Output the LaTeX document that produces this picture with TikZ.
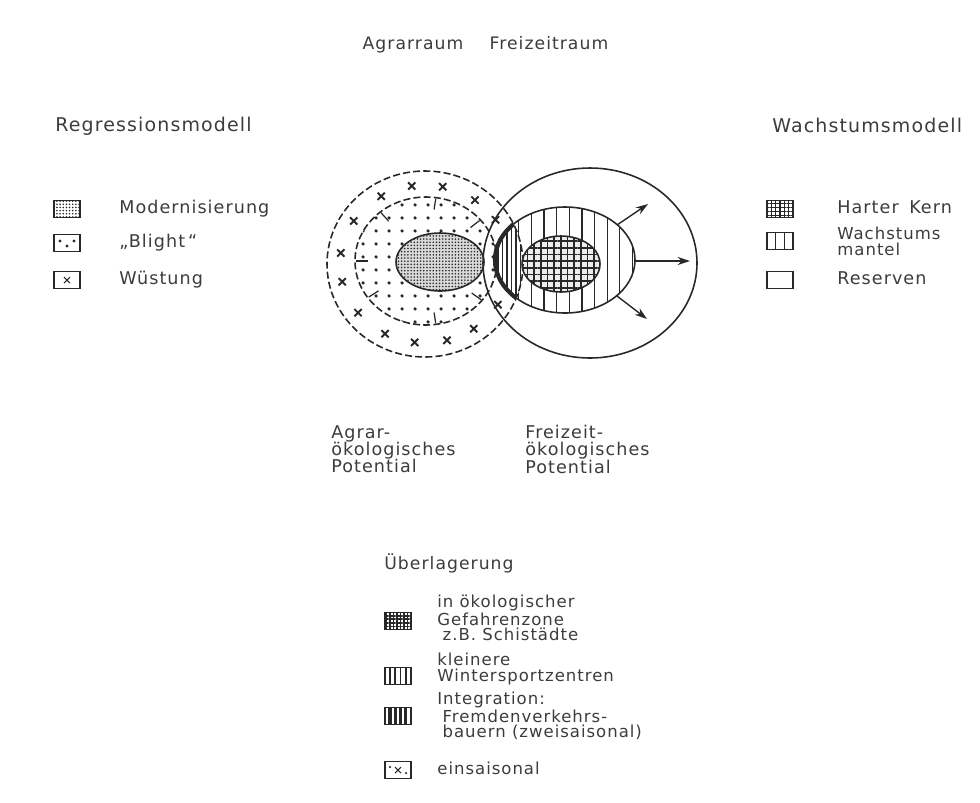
\documentclass[tikz,border=0pt]{standalone}
\usepackage{fontspec}
\setmainfont{DejaVu Sans}[LetterSpace=6]
\usetikzlibrary{arrows.meta,patterns.meta}
\definecolor{ink}{RGB}{40,40,40}
\definecolor{tink}{RGB}{60,60,60}

\begin{document}
\begin{tikzpicture}[x=0.02cm, y=-0.02cm, >={Stealth[length=7pt,width=4.6pt]}]
  \tikzset{
    txt/.style={anchor=west, inner sep=0pt, text=tink, text height=7pt,
                text depth=2pt, font=\fontsize{10}{9.6}\selectfont},
    head/.style={txt, font=\fontsize{10.8}{10}\selectfont},
    mtxt/.style={anchor=north west, align=left, inner sep=0pt, text=tink,
                 font=\fontsize{10}{9.8}\selectfont},
    stxt/.style={mtxt, font=\fontsize{9.4}{8.6}\selectfont},
    zone/.style={draw=ink, line width=0.9pt},
    dzone/.style={zone, dash pattern=on 4pt off 1.8pt},
    leg/.style={draw=ink, line width=0.8pt, minimum width=0.52cm,
                minimum height=0.34cm, inner sep=0pt},
    crs/.style={draw=ink, line width=1.1pt},
    tick/.style={draw=ink, line width=0.7pt},
    arr/.style={->, draw=ink, line width=0.8pt}
  }
  \useasboundingbox (0,0) rectangle (980,802);

  % titles
  \node[txt, anchor=center, font=\fontsize{9.8}{9}\selectfont] (agrar) at (413,45) {Agrarraum};
  \node[txt, anchor=center, font=\fontsize{9.8}{9}\selectfont] (freizeit) at (549,45) {Freizeitraum};
  \node[head] (regr) at (55,127) {Regressionsmodell};
  \node[head] (wachs) at (772,128) {Wachstumsmodell};

  % legend: regression model
  \node[leg, fill=gray!30, pattern={Dots[distance=1.8pt,radius=0.5pt]}, pattern color=ink] (bMod) at (67,209) {};
  \node[leg] (bBli) at (67,243) {};
  \fill[ink] ([shift={(-7,-2)}]bBli.center) circle (0.9pt)
             ([shift={(7,-2)}]bBli.center) circle (0.9pt)
             ([shift={(0,3)}]bBli.center) circle (0.9pt);
  \node[leg] (bWue) at (67,280) {};
  \draw[crs, line width=0.6pt] ([shift={(-3,-3)}]bWue.center) -- ([shift={(3,3)}]bWue.center)
                               ([shift={(-3,3)}]bWue.center) -- ([shift={(3,-3)}]bWue.center);
  \node[txt] (tMod) at (119,209) {Modernisierung};
  \node[txt] (tBli) at (119,243) {„Blight\,“};
  \node[txt] (tWue) at (119,280) {Wüstung};

  % legend: growth model
  \node[leg, pattern={Hatch[angle=0,distance=2.4pt,line width=0.7pt]}, pattern color=ink] (bKern) at (780,209) {};
  \node[leg] (bMant) at (780,241) {};
  \draw[ink, line width=0.7pt] (bMant.north) ++(-4.5,0) -- ++(0,17)
                               (bMant.north) ++(4.5,0) -- ++(0,17);
  \node[leg] (bRes) at (780,280) {};
  \node[txt] (tKern) at (837,209) {Harter\hspace{0.6em}Kern};
  \node[mtxt, font=\fontsize{9.4}{9}\selectfont] (tMant) at (837,227) {Wachstums\\mantel};
  \node[txt] (tRes) at (837,280) {Reserven};

  % Agrarraum: regression model
  \foreach \a in {34,54,78,99,121,147,172,193,218,242,263,285,305,329}
    \draw[crs] (425,264) ++(-\a:85 and 79) +(-3.6,-3.6) -- +(3.6,3.6) +(-3.6,3.6) -- +(3.6,-3.6);
  \path[pattern={Dots[distance=7.4pt,radius=1.1pt]}, pattern color=ink] (426,261) ellipse (71 and 64);
  \draw[dzone] (426,261) ellipse (71 and 64);
  \foreach \a in {40,82,130,180,215,278,322}
    \draw[tick, shift={(426,261)}] (-\a:70 and 63) -- (-\a:58 and 52);
  \fill[gray!30] (440,262) ellipse (44 and 29);
  \path[pattern={Dots[distance=1.8pt,radius=0.5pt]}, pattern color=ink] (440,262) ellipse (44 and 29);
  \draw[zone] (440,262) ellipse (44 and 29);

  % Freizeitraum: growth model
  \draw[zone] (590,263) ellipse (107 and 95);
  \fill[white] (565,260) ellipse (70 and 53);
  \path[pattern={Lines[angle=90,distance=7.2pt,line width=0.7pt]}, pattern color=ink] (565,260) ellipse (70 and 53);
  \begin{scope}
    \clip (425,264) ellipse (98 and 93);
    \fill[white] (565,260) ellipse (70 and 53);
    \path[pattern={Lines[angle=90,distance=2.6pt,line width=0.8pt]}, pattern color=ink] (565,260) ellipse (70 and 53);
    \draw[ink, line width=2.4pt] (565,260) ellipse (70 and 53);
  \end{scope}
  \draw[zone] (565,260) ellipse (70 and 53);
  \fill[gray!15] (561,264) ellipse (39 and 28);
  \path[pattern={Hatch[angle=0,distance=3.8pt,line width=0.9pt]}, pattern color=ink] (561,264) ellipse (39 and 28);
  \draw[zone] (561,264) ellipse (39 and 28);
  \draw[dzone] (425,264) ellipse (98 and 93);

  % growth arrows
  \coordinate (mantE) at (635,261);
  \coordinate (mantN) at (617,225);
  \coordinate (mantS) at (617,296);
  \coordinate (tipE) at (690,261);
  \coordinate (tipN) at (648,204);
  \coordinate (tipS) at (647,319);
  \draw[arr] (mantE) -- (tipE);
  \draw[arr] (mantN) -- (tipN);
  \draw[arr] (mantS) -- (tipS);

  % potentials
  \node[mtxt] (agrpot) at (331,425) {Agrar-\\ökologisches\\Potential};
  \node[mtxt] (frzpot) at (525,425) {Freizeit-\\ökologisches\\Potential};

  % overlay legend
  \node[txt, font=\fontsize{9.8}{9}\selectfont] (ueber) at (384,565) {Überlagerung};
  \node[leg, pattern={Hatch[angle=0,distance=2pt,line width=0.9pt]}, pattern color=ink] (bGef) at (398,621) {};
  \node[leg, pattern={Lines[angle=90,distance=3pt,line width=1pt]}, pattern color=ink] (bKlein) at (398,676) {};
  \node[leg, pattern={Lines[angle=90,distance=3pt,line width=1.8pt]}, pattern color=ink] (bInt) at (398,716) {};
  \node[leg] (bEin) at (398,770) {};
  \draw[crs, line width=0.6pt] ([shift={(-3,-3)}]bEin.center) -- ([shift={(3,3)}]bEin.center)
                               ([shift={(-3,3)}]bEin.center) -- ([shift={(3,-3)}]bEin.center);
  \fill[ink] ([shift={(-8,-3)}]bEin.center) circle (0.7pt)
             ([shift={(8,3)}]bEin.center) circle (0.7pt);
  \node[stxt] (tGef) at (437,595) {in ökologischer\\Gefahrenzone\\\hspace*{3pt}z.B. Schistädte};
  \node[stxt] (tKlein) at (437,653) {kleinere\\Wintersportzentren};
  \node[stxt] (tInt) at (437,692) {Integration:\\\hspace*{3pt}Fremdenverkehrs-\\\hspace*{3pt}bauern (zweisaisonal)};
  \node[txt, font=\fontsize{9.4}{8.6}\selectfont] (tEin) at (437,770) {einsaisonal};
\end{tikzpicture}
\end{document}
